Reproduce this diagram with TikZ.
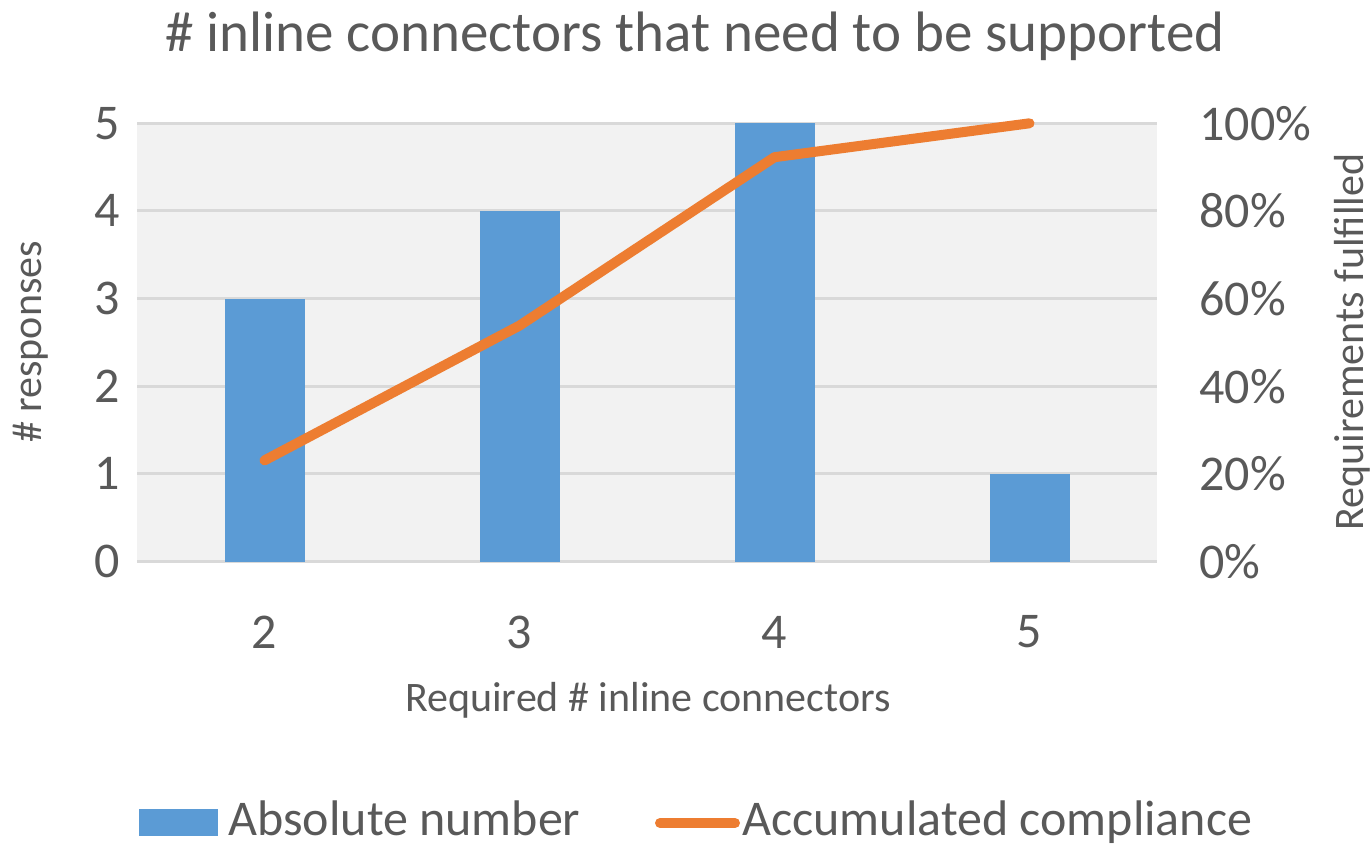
\documentclass[tikz,border=0pt]{standalone}
\usepackage{fontspec}
\setmainfont{Carlito}
\definecolor{txt}{HTML}{595959}
\definecolor{grid}{HTML}{D9D9D9}
\definecolor{plotbg}{HTML}{F2F2F2}
\definecolor{barblue}{HTML}{5B9BD5}
\definecolor{lineorange}{HTML}{ED7D31}
\begin{document}
\begin{tikzpicture}[x=0.5pt,y=-0.5pt,
  lbl/.style={text=txt,inner sep=0pt,font=\fontsize{25}{25}\selectfont},
  axtitle/.style={text=txt,inner sep=0pt,font=\fontsize{21}{21}\selectfont},
  bar/.style={fill=barblue,draw=none},
  gridline/.style={draw=grid,line width=1.5pt}]
\useasboundingbox (0,0) rectangle (1371,845);
% plot area
\fill[plotbg] (137,123.3) rectangle (1157,561.5);
\foreach \k in {0,...,5}
  \draw[gridline] (137,{561.5-87.64*\k}) -- (1157,{561.5-87.64*\k});
% bars
\foreach \i/\v in {0/3,1/4,2/5,3/1}
  \fill[bar] ({224.5+255*\i},561.5) rectangle ({304.5+255*\i},{561.5-87.64*\v});
% accumulated line
\draw[lineorange,line width=5pt,line cap=round,line join=round]
  (264.5,460.4) -- (519.5,325.6) -- (774.5,157.2) -- (1029.5,123.3);
% left axis
\foreach \k in {0,...,5}
  \node[lbl,anchor=east] (l\k) at (120,{561.5-87.64*\k}) {\k};
% right axis
\foreach \k/\p in {0/0\%,1/20\%,2/40\%,3/60\%,4/80\%,5/100\%}
  \node[lbl,anchor=west] (r\k) at (1199,{561.5-87.64*\k}) {\p};
% category labels
\foreach \i/\c in {0/2,1/3,2/4,3/5}
  \node[lbl] (c\c) at ({264.5+255*\i},632) {\c};
% axis titles
\node[axtitle,rotate=90] (ytl) at (31,342) {\# responses};
\node[axtitle,rotate=90] (ytr) at (1352,342) {Requirements fulfilled};
\node[axtitle] (xt) at (648,700) {Required \# inline connectors};
% title
\node[text=txt,inner sep=0pt,font=\fontsize{28.5}{28.5}\selectfont,anchor=base] (title) at (695,52) {\# inline connectors that need to be supported};
% legend
\fill[barblue] (139,809) rectangle (218,836);
\node[lbl,anchor=base west] (lg1) at (228,835) {Absolute number};
\draw[lineorange,line width=5pt,line cap=round] (660,823) -- (735,823);
\node[lbl,anchor=base west] (lg2) at (742,835) {Accumulated compliance};
\end{tikzpicture}
\end{document}
